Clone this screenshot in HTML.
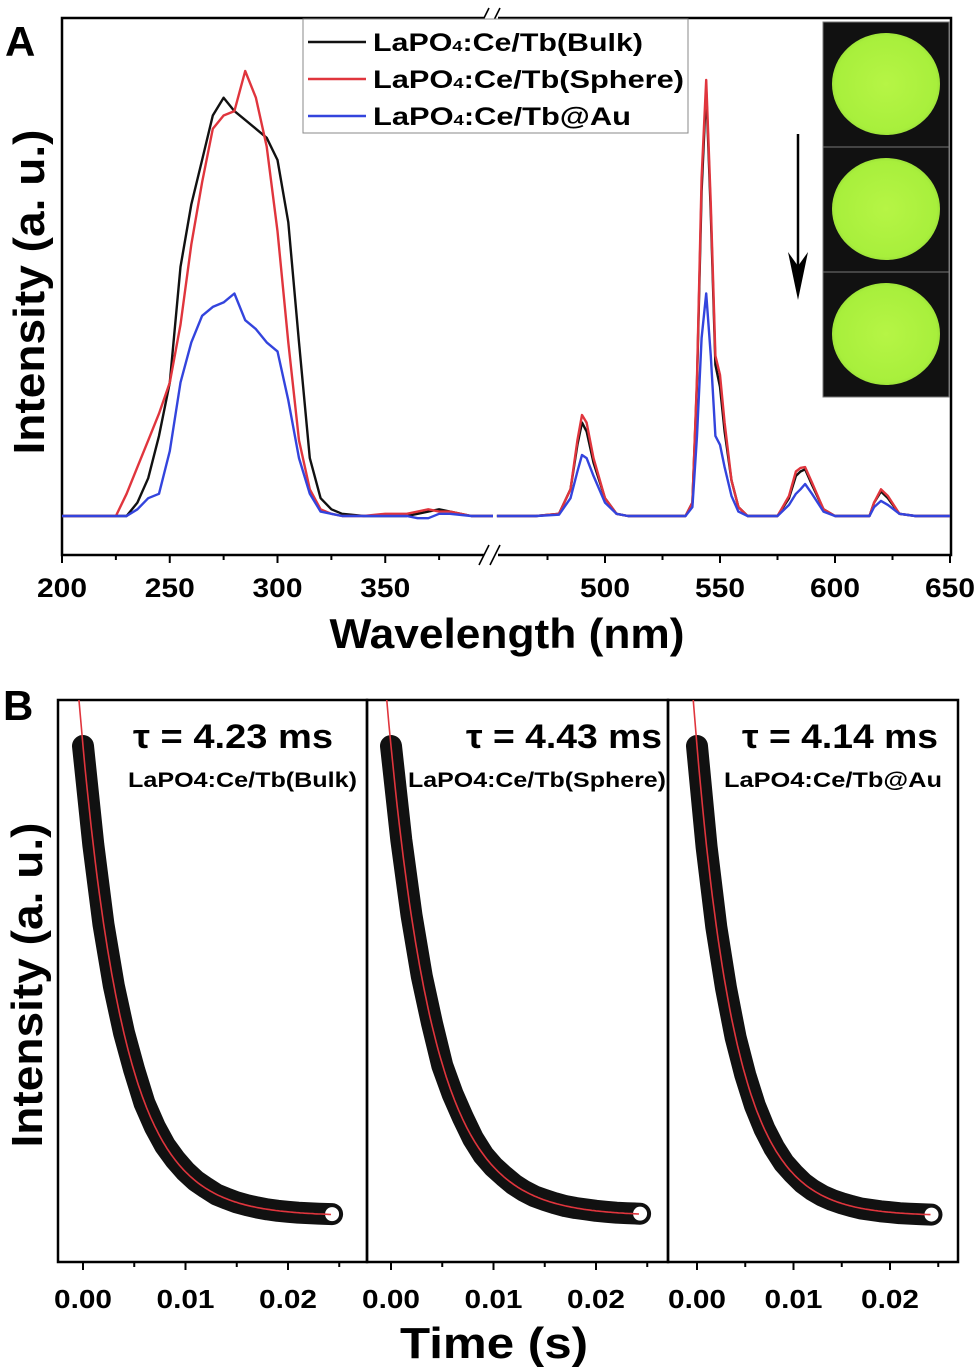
<!DOCTYPE html>
<html><head><meta charset="utf-8"><style>
html,body{margin:0;padding:0;background:#fff}
svg{display:block;font-family:"Liberation Sans",Arial,sans-serif}
</style></head><body>
<svg id="fig" width="980" height="1372" viewBox="0 0 980 1372">
<g id="panelA"></g>
<g id="panelB"></g>
</svg>
<script>
// ===== Panel A data =====
const wlLeft = [200,220,225,230,235,240,245,250,255,260,265,270,275,280,285,290,295,300,305,310,315,320,325,330,340,350,360,365,370,375,380,390,400];
const bulkLeft   = [0,0,0,0,3,8.5,18,30,56,70,80,90,94,91,89,87,85,80,66,39,13,4,1.5,0.5,0,0,0,0.5,1,1.5,1,0,0];
const sphereLeft = [0,0,0,5,11,17,23,30,43,61,75,87,90,91,100,94,83,64,39,17,6,1.5,0.5,0,0,0.5,0.5,1,1.5,1,1,0,0];
const auLeft     = [0,0,0,0,1.5,4,5,14.6,30,39,45,47,48,50,44,42,39,37,26,13,5,1,0.5,0,0,0,0,-0.5,-0.5,0.5,0.5,0,0];
const wlRight = [453,465,470,480,485,488,490,492,495,500,505,510,520,530,535,538,540,542,544,546,548,550,552,555,558,562,570,575,580,583,585,587,590,595,600,610,615,617,620,623,628,635,650];
const bulkRight   = [0,0,0,0.5,6,16,21,19,12,4,0.5,0,0,0,0,3,30,73,96,68,34,29,19,8,2,0,0,0,4,9,10,10.5,7,1.5,0,0,0,3,5.5,4,0.5,0,0];
const sphereRight = [0,0,0,0.5,6,17,22.7,21,13,4,0.5,0,0,0,0,3,31,76,98,70,36,31.7,21,8,2,0,0,0,4.5,10,10.8,11,7.5,1.5,0,0,0,3,6,4.5,0.5,0,0];
const auRight     = [0,0,0,0.3,4,10,13.7,13,9,3,0.5,0,0,0,0,2,18,40,50,36,18,16,11,4.5,1,0,0,0,2.5,5,6,7.2,5,1,0,0,0,2,3.4,2.5,0.5,0,0];
const tickLeft = [200,250,300,350];
const tickRight = [500,550,600,650];
const minorLeft = [225,275,325,375];
const minorRight = [475,525,575,625];
// ===== Panel B data =====
const timesMs = [0,1,2,3,4,5,6,7,8,9,10,11,12,13,14,15,16,17,18,19,20,21,22,23,24.3];
const decayBulk   = [1,.79,.62,.49,.39,.31,.24,.19,.15,.12,.095,.075,.06,.046,.037,.029,.023,.018,.014,.011,.009,.007,.006,.005,.004];
const decaySphere = [1,.80,.64,.51,.41,.32,.26,.21,.165,.13,.105,.085,.067,.053,.042,.034,.027,.021,.017,.014,.011,.009,.007,.006,.005];
const decayAu     = [1,.785,.615,.485,.38,.30,.235,.185,.145,.113,.09,.07,.055,.043,.034,.027,.021,.016,.013,.010,.008,.006,.005,.004,.003];
const tauMs = [4.23,4.43,4.14];
const tauLabels = ["τ = 4.23 ms","τ = 4.43 ms","τ = 4.14 ms"];
const sampleLabels = ["LaPO4:Ce/Tb(Bulk)","LaPO4:Ce/Tb(Sphere)","LaPO4:Ce/Tb@Au"];
const timeTicks = [0,0.01,0.02];
const timeTickLabels = ["0.00","0.01","0.02"];

const NS="http://www.w3.org/2000/svg";
function mk(parent,tag,attrs,text){const e=document.createElementNS(NS,tag);for(const k in attrs)e.setAttribute(k,attrs[k]);if(text!==undefined)e.textContent=text;parent.appendChild(e);return e;}
const SG='spacingAndGlyphs';

// ---- Panel A ----
const A=document.getElementById('panelA');
const axL=62,axR=951,axT=18,axB=555;
const xL=l=>62+(l-200)*2.155;
const xR=l=>605+(l-500)*2.3;
const yA=v=>516-v*4.45;
let e;
e=mk(A,'rect',{x:axL,y:axT,width:axR-axL,height:axB-axT,fill:'none',stroke:'#000','stroke-width':2.5});


function series(wl,vals,xf,color,name){
  const d=wl.map((l,i)=>(i?'L':'M')+xf(l).toFixed(1)+','+yA(vals[i]).toFixed(1)).join(' ');
  const p=mk(A,'path',{d:d,fill:'none',stroke:color,'stroke-width':2.4,'stroke-linejoin':'round'});
  
  
}
series(wlLeft,bulkLeft,xL,'#111','bulk-excitation-line');
series(wlRight,bulkRight,xR,'#111','bulk-emission-line');
series(wlLeft,sphereLeft,xL,'#e0353d','sphere-excitation-line');
series(wlRight,sphereRight,xR,'#e0353d','sphere-emission-line');
series(wlLeft,auLeft,xL,'#3344dd','au-excitation-line');
series(wlRight,auRight,xR,'#3344dd','au-emission-line');
function tick(x,len,name){const t=mk(A,'line',{x1:x,y1:axB,x2:x,y2:axB+len,stroke:'#000','stroke-width':2});}
function tlabel(x,l){const t=mk(A,'text',{x:x,y:597,'text-anchor':'middle','font-size':27,'font-weight':'bold',textLength:50,lengthAdjust:SG},String(l));}
tickLeft.forEach(l=>{tick(xL(l),8,'x-tick');tlabel(xL(l),l);});
tickRight.forEach(l=>{tick(xR(l),8,'x-tick');tlabel(xR(l),l);});
minorLeft.forEach(l=>tick(xL(l),5,'x-minor-tick'));
minorRight.forEach(l=>tick(xR(l),5,'x-minor-tick'));
[[axT],[axB]].forEach(([yy])=>{
  e=mk(A,'rect',{x:484,y:yy-3,width:14,height:6,fill:'#fff'});
  
  
  e=mk(A,'path',{d:`M479,${yy+10} L489,${yy-10} M490,${yy+10} L500,${yy-10}`,stroke:'#000','stroke-width':1.6,fill:'none'});
  
  
});
e=mk(A,'text',{x:5,y:56,'font-size':42,'font-weight':'bold'},'A');


e=mk(A,'text',{x:507,y:648,'text-anchor':'middle','font-size':42,'font-weight':'bold',textLength:355,lengthAdjust:SG},'Wavelength (nm)');


e=mk(A,'text',{x:0,y:0,'text-anchor':'middle','font-size':44,'font-weight':'bold',textLength:325,lengthAdjust:SG,transform:'translate(44,292) rotate(-90)'},'Intensity (a. u.)');


const leg=mk(A,'g',{});


e=mk(leg,'rect',{x:303,y:19,width:385,height:114,fill:'#fff',stroke:'#888','stroke-width':1});


const legColors=['#111','#e0353d','#3344dd'];
const legNames=['(Bulk)','(Sphere)','@Au'];
const legLen=[270,311,258];
legColors.forEach((c,i)=>{
  const y=42+i*37;
  const g=mk(leg,'g',{});
  
  
  mk(g,'line',{x1:308,y1:y,x2:366,y2:y,stroke:c,'stroke-width':2.6});
  const t=mk(g,'text',{x:373,y:y+9,'font-size':25,'font-weight':'bold',textLength:legLen[i],lengthAdjust:SG});
  mk(t,'tspan',{},'LaPO');
  mk(t,'tspan',{'font-size':15},'4');
  mk(t,'tspan',{},':Ce/Tb'+legNames[i]);
});
const ins=mk(A,'g',{});


mk(ins,'defs',{}).innerHTML='<radialGradient id="gl" cx="50%" cy="50%" r="55%"><stop offset="0" stop-color="#b6f545"/><stop offset="0.85" stop-color="#a8ef3c"/><stop offset="1" stop-color="#8fd335"/></radialGradient>';
[22,147,272].forEach((y,i)=>{
  const g=mk(ins,'g',{});
  
  
  mk(g,'rect',{x:823,y:y,width:126,height:125,fill:'#111',stroke:'#777','stroke-width':1});
  mk(g,'ellipse',{cx:886,cy:y+62,rx:54,ry:51,fill:'url(#gl)'});
});
e=mk(A,'path',{d:'M798,134 L798,270',stroke:'#000','stroke-width':2.5,fill:'none'});


e=mk(A,'path',{d:'M788,252 L798,300 L808,252 L798,266 Z',fill:'#000'});



// ---- Panel B ----
const B=document.getElementById('panelB');
const bT=700,bBot=1262;
const panels=[{x0:58,x1:367,t0:83,s:10250,data:decayBulk},{x0:367,x1:668,t0:391,s:10250,data:decaySphere},{x0:668,x1:958,t0:697,s:9650,data:decayAu}];
const yB=v=>1216-v*470;
mk(B,'defs',{}).innerHTML=panels.map((p,i)=>`<clipPath id="cb${i}"><rect x="${p.x0}" y="${bT}" width="${p.x1-p.x0}" height="${bBot-bT}"/></clipPath>`).join('');
const tauX=[333,662,938], tauLen=[200,196,196];
const sampX=[357,666,942], sampLen=[229,258,218];
panels.forEach((p,i)=>{
  const g=mk(B,'g',{});
  
  
  const xt=t=>p.t0+t*p.s;
  e=mk(g,'rect',{x:p.x0,y:bT,width:p.x1-p.x0,height:bBot-bT,fill:'none',stroke:'#000','stroke-width':2.5});
  
  
  const d=timesMs.map((t,k)=>(k?'L':'M')+xt(t/1000).toFixed(1)+','+yB(p.data[k]).toFixed(1)).join(' ');
  e=mk(g,'path',{d:d,fill:'none',stroke:'#111','stroke-width':22,'stroke-linecap':'round','stroke-linejoin':'round'});
  
  
  const lt=timesMs[timesMs.length-1]/1000, lv=p.data[p.data.length-1];
  e=mk(g,'circle',{cx:xt(lt),cy:yB(lv),r:8,fill:'#fff',stroke:'#111','stroke-width':2});
  
  
  let fd='';
  for(let t=-0.0006;t<=lt;t+=0.0002){fd+=(fd?'L':'M')+xt(t).toFixed(1)+','+yB(Math.exp(-t*1000/tauMs[i])).toFixed(1)+' ';}
  e=mk(g,'path',{d:fd,fill:'none',stroke:'#e0353d','stroke-width':1.6,'clip-path':`url(#cb${i})`});
  
  
  timeTicks.forEach((t,k)=>{
    e=mk(g,'line',{x1:xt(t),y1:bBot,x2:xt(t),y2:bBot+8,stroke:'#000','stroke-width':2});
    
    
    e=mk(g,'line',{x1:xt(t+0.005),y1:bBot,x2:xt(t+0.005),y2:bBot+5,stroke:'#000','stroke-width':2});
    
    
    e=mk(g,'text',{x:xt(t),y:1308,'text-anchor':'middle','font-size':26,'font-weight':'bold',textLength:58,lengthAdjust:SG},timeTickLabels[k]);
    
    
  });
  e=mk(g,'text',{x:tauX[i]-tauLen[i],y:748,'font-size':34,'font-weight':'bold',textLength:tauLen[i],lengthAdjust:SG},tauLabels[i]);
  
  
  e=mk(g,'text',{x:sampX[i]-sampLen[i],y:787,'font-size':21,'font-weight':'bold',textLength:sampLen[i],lengthAdjust:SG},sampleLabels[i]);
  
  
});
e=mk(B,'text',{x:3,y:720,'font-size':42,'font-weight':'bold'},'B');


e=mk(B,'text',{x:494,y:1358,'text-anchor':'middle','font-size':44,'font-weight':'bold',textLength:188,lengthAdjust:SG},'Time (s)');


e=mk(B,'text',{x:0,y:0,'text-anchor':'middle','font-size':44,'font-weight':'bold',textLength:325,lengthAdjust:SG,transform:'translate(42,985) rotate(-90)'},'Intensity (a. u.)');


</script>
</body></html>
